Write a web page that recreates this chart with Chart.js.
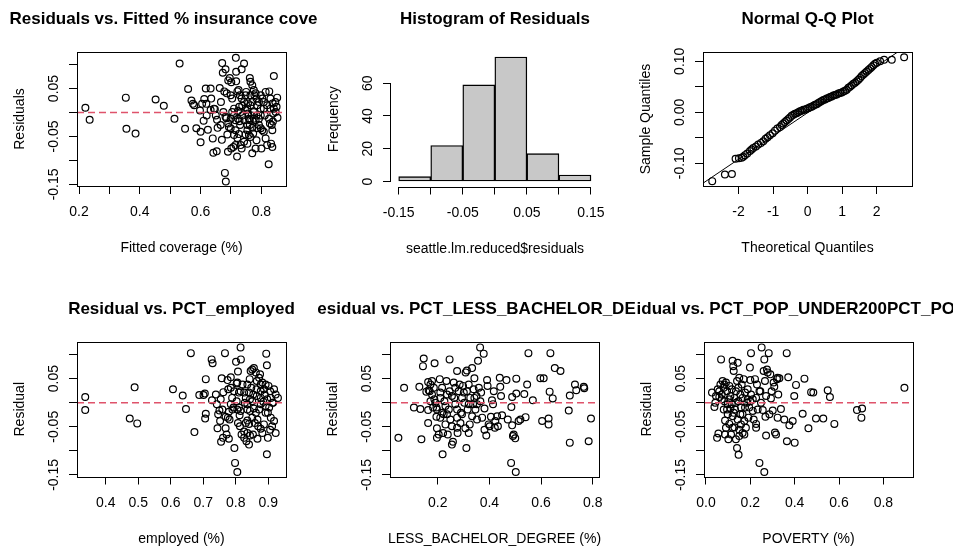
<!DOCTYPE html>
<html>
<head>
<meta charset="utf-8">
<script src="https://cdn.jsdelivr.net/npm/chart.js@4.4.1/dist/chart.umd.min.js"></script>
<style>
  body { margin: 0; background: #fff; }
  #page { position: relative; width: 953px; height: 549px; overflow: hidden; background: #fff; }
  canvas { position: absolute; }
</style>
</head>
<body>
<div id="page">
  <canvas id="fittedPlot" width="318" height="275" style="left:0;top:0"></canvas>
  <canvas id="histPlot" width="318" height="275" style="left:318px;top:0"></canvas>
  <canvas id="qqPlot" width="317" height="275" style="left:636px;top:0"></canvas>
  <canvas id="employedPlot" width="318" height="274" style="left:0;top:275px"></canvas>
  <canvas id="bachelorPlot" width="318" height="274" style="left:318px;top:275px"></canvas>
  <canvas id="povertyPlot" width="317" height="274" style="left:636px;top:275px"></canvas>
</div>
<script>
// residuals vs fitted
const fittedValues = [
  0.221,0.235,0.354,0.356,0.386,0.452,0.479,0.514,0.531,0.549,
  0.559,0.570,0.575,0.579,0.586,0.600,0.598,0.600,0.605,0.610,
  0.612,0.617,0.619,0.624,0.633,0.635,0.640,0.642,0.644,0.647,
  0.653,0.654,0.656,0.663,0.667,0.670,0.671,0.673,0.675,0.678,
  0.682,0.686,0.685,0.688,0.690,0.691,0.693,0.696,0.699,0.701,
  0.680,0.683,0.716,0.717,0.735,0.743,0.720,0.717,0.721,0.725,
  0.729,0.727,0.735,0.710,0.715,0.723,0.728,0.730,0.726,0.721,
  0.715,0.708,0.701,0.732,0.735,0.743,0.748,0.750,0.754,0.756,
  0.759,0.762,0.764,0.770,0.775,0.781,0.784,0.786,0.775,0.768,
  0.762,0.754,0.748,0.759,0.764,0.754,0.743,0.770,0.781,0.784,
  0.786,0.792,0.798,0.803,0.808,0.800,0.814,0.819,0.824,0.798,
  0.803,0.808,0.814,0.826,0.830,0.837,0.841,0.846,0.852,0.853,
  0.830,0.834,0.836,0.838,0.832,0.836,0.841,0.850,0.819,0.808,
  0.798,0.792,0.784,0.775,0.770,0.764,0.732,0.737,0.745,0.754,
  0.762,0.770,0.773,0.781,0.715,0.710,0.699,0.691,0.699,0.704,
  0.710,0.704,0.723,0.737,0.748,0.756,0.764,0.777,0.792,0.798,
  0.811,0.825,0.828,0.839,0.847,0.682,0.666,0.650,0.633,0.620
];
const fittedResiduals = [
  0.010,-0.015,0.031,-0.034,-0.044,0.027,0.014,-0.013,0.102,-0.034,
  0.049,0.025,0.018,0.015,-0.033,-0.062,0.004,-0.040,0.018,-0.017,
  0.028,0.050,0.018,-0.036,0.050,0.029,-0.054,-0.084,0.008,0.007,
  -0.081,-0.015,-0.032,0.051,0.022,-0.057,0.103,0.083,0.001,0.044,
  0.090,0.040,-0.012,-0.046,-0.082,0.067,-0.030,0.072,0.036,0.063,
  -0.126,-0.144,0.114,0.085,0.090,0.102,-0.092,0.065,0.044,0.047,
  0.036,0.012,0.029,-0.006,-0.016,-0.013,-0.018,-0.026,-0.045,-0.053,
  -0.068,-0.072,-0.075,-0.068,-0.075,0.022,0.036,0.043,0.008,-0.002,
  -0.013,0.072,0.064,0.057,0.047,0.040,0.029,0.015,0.001,-0.006,
  -0.016,-0.037,-0.046,-0.047,-0.051,-0.065,-0.061,-0.085,-0.075,-0.058,
  -0.033,-0.026,-0.033,-0.037,-0.040,-0.075,-0.054,-0.068,-0.108,0.036,
  0.029,0.022,0.043,0.044,0.029,0.019,0.076,0.022,0.031,-0.011,
  0.008,-0.026,-0.037,-0.019,-0.065,-0.072,0.008,0.012,0.015,0.008,
  -0.006,-0.013,-0.006,-0.013,0.022,0.015,0.001,-0.006,-0.016,-0.026,
  -0.026,-0.032,-0.044,-0.016,-0.037,-0.047,-0.033,-0.023,-0.013,0.001,
  0.008,0.029,0.003,0.014,0.005,0.019,0.036,0.036,0.022,0.008,
  -0.006,-0.013,-0.023,-0.002,0.001,-0.009,-0.026,-0.006,0.005,-0.006
];

// histogram
const histMids = [-0.125, -0.075, -0.025, 0.025, 0.075, 0.125];
const histCounts = [3, 22, 59, 76, 17, 4];

// normal q-q
const qqTheoretical = [
  -2.763,-2.396,-2.193,-2.087,-1.990,-1.913,-1.865,-1.816,-1.749,-1.671,
  -1.623,-1.575,-1.498,-1.430,-1.353,-1.285,-1.217,-1.159,-1.092,-1.014,
  -0.947,-0.879,-0.802,-0.754,-0.705,-0.657,-0.609,-0.560,-0.512,-0.464,
  -0.415,-0.367,-0.319,-0.271,-0.222,-0.174,-0.126,-0.077,-0.029,0.019,
  0.068,0.116,0.164,0.213,0.261,0.309,0.357,0.406,0.454,0.502,
  0.551,0.599,0.647,0.696,0.744,0.792,0.841,0.889,0.937,0.986,
  1.034,1.082,1.130,1.179,1.227,1.275,1.324,1.372,1.420,1.469,
  1.517,1.565,1.614,1.662,1.710,1.758,1.807,1.855,1.903,1.952,
  2.000,2.097,2.213,2.435,2.792
];
const qqSample = [
  -0.135,-0.122,-0.121,-0.091,-0.090,-0.089,-0.087,-0.084,-0.081,-0.076,
  -0.073,-0.070,-0.067,-0.063,-0.060,-0.057,-0.052,-0.049,-0.045,-0.041,
  -0.036,-0.032,-0.029,-0.025,-0.022,-0.019,-0.016,-0.013,-0.010,-0.007,
  -0.005,-0.003,-0.002,0.000,0.002,0.003,0.005,0.005,0.007,0.008,
  0.010,0.011,0.013,0.015,0.016,0.018,0.020,0.022,0.024,0.025,
  0.027,0.028,0.030,0.031,0.033,0.034,0.035,0.037,0.038,0.039,
  0.041,0.042,0.044,0.048,0.050,0.053,0.056,0.058,0.061,0.064,
  0.067,0.071,0.074,0.077,0.080,0.083,0.086,0.089,0.092,0.095,
  0.097,0.100,0.103,0.103,0.108
];
const qqLineX = [-3.03, 3.02];
const qqLineY = [-0.139, 0.137];

// residual vs PCT_employed
const employedPct = [
  0.337,0.337,0.489,0.474,0.497,0.607,0.637,0.647,0.662,0.673,
  0.688,0.701,0.705,0.708,0.708,0.706,0.726,0.729,0.727,0.739,
  0.744,0.750,0.752,0.755,0.757,0.761,0.762,0.767,0.769,0.772,
  0.775,0.779,0.781,0.785,0.789,0.796,0.798,0.805,0.801,0.807,
  0.805,0.815,0.816,0.810,0.803,0.810,0.815,0.807,0.813,0.818,
  0.826,0.833,0.841,0.844,0.853,0.867,0.831,0.836,0.841,0.836,
  0.831,0.826,0.836,0.843,0.846,0.851,0.856,0.862,0.865,0.872,
  0.877,0.875,0.882,0.887,0.892,0.894,0.896,0.889,0.897,0.906,
  0.918,0.923,0.930,0.908,0.913,0.903,0.899,0.908,0.918,0.912,
  0.906,0.923,0.899,0.896,0.877,0.872,0.867,0.862,0.856,0.851,
  0.844,0.854,0.865,0.877,0.885,0.892,0.887,0.882,0.877,0.836,
  0.826,0.812,0.805,0.793,0.785,0.776,0.769,0.759,0.746,0.754,
  0.742,0.777,0.785,0.795,0.803,0.790,0.779,0.821,0.815,0.828,
  0.836,0.844,0.851,0.859,0.869,0.841,0.848,0.864,0.877,0.892,
  0.901,0.915
];
const employedResiduals = [
  0.012,-0.015,0.032,-0.033,-0.043,0.028,0.015,-0.013,0.103,-0.061,
  0.016,0.016,0.019,0.049,-0.023,-0.033,0.090,0.082,0.005,0.017,
  -0.053,-0.016,-0.038,-0.081,0.051,-0.073,0.022,0.103,-0.053,-0.066,
  0.047,-0.075,-0.035,0.053,0.010,-0.094,-0.125,-0.144,0.085,0.065,
  0.042,0.115,0.090,0.021,0.003,-0.010,-0.017,-0.042,-0.049,-0.066,
  -0.073,-0.080,-0.087,-0.068,-0.066,-0.075,-0.042,-0.037,-0.044,-0.003,
  0.010,0.021,0.038,0.049,0.066,0.069,0.072,0.063,0.045,0.052,
  0.038,0.059,0.042,0.028,0.038,0.102,0.078,0.017,0.007,0.024,
  0.028,0.017,0.010,0.010,0.000,-0.010,-0.021,-0.031,-0.038,-0.049,
  -0.056,-0.063,-0.073,-0.107,-0.003,-0.014,-0.035,-0.021,-0.012,0.003,
  0.007,0.017,0.014,0.010,0.002,-0.021,-0.045,-0.063,-0.054,-0.063,
  -0.060,-0.026,-0.014,-0.010,-0.003,-0.031,-0.029,-0.014,-0.024,0.007,
  -0.003,0.028,0.031,0.024,0.040,-0.014,-0.019,0.038,0.024,0.000,
  -0.014,-0.017,-0.031,-0.042,-0.049,0.021,0.031,0.028,0.024,-0.007,
  0.035,0.000
];

// residual vs PCT_LESS_BACHELOR_DEGREE
const lessBachelorPct = [
  0.048,0.070,0.108,0.129,0.133,0.137,0.146,0.143,0.156,0.163,
  0.165,0.169,0.172,0.163,0.163,0.178,0.185,0.188,0.191,0.195,
  0.197,0.197,0.204,0.208,0.210,0.210,0.217,0.219,0.221,0.226,
  0.230,0.234,0.236,0.239,0.243,0.246,0.246,0.249,0.255,0.259,
  0.262,0.264,0.268,0.275,0.275,0.277,0.281,0.285,0.288,0.290,
  0.294,0.298,0.303,0.307,0.308,0.311,0.313,0.313,0.316,0.320,
  0.320,0.324,0.326,0.333,0.337,0.339,0.342,0.346,0.350,0.352,
  0.356,0.364,0.368,0.372,0.378,0.381,0.381,0.388,0.391,0.393,
  0.397,0.401,0.406,0.410,0.414,0.417,0.421,0.423,0.430,0.433,
  0.440,0.442,0.445,0.449,0.466,0.471,0.484,0.488,0.485,0.488,
  0.491,0.494,0.500,0.502,0.504,0.504,0.513,0.520,0.535,0.540,
  0.546,0.551,0.568,0.597,0.610,0.604,0.629,0.629,0.633,0.636,
  0.645,0.653,0.675,0.707,0.711,0.711,0.731,0.736,0.765,0.767,
  0.784,0.793,0.172,0.178,0.187,0.197,0.210,0.217,0.223,0.236,
  0.255,0.268,0.275,0.294,0.301,0.320,0.333,0.342,0.352,0.359,
  0.365,0.255,0.275,0.230,0.195,0.182
];
const lessBachelorResiduals = [
  -0.073,0.031,-0.010,0.033,-0.013,-0.076,0.092,0.076,0.023,0.043,
  0.026,0.024,0.003,-0.015,-0.042,0.045,0.031,0.082,0.000,-0.010,
  -0.053,-0.073,-0.066,0.049,0.021,-0.031,-0.021,-0.107,-0.063,0.003,
  -0.007,0.045,-0.024,-0.066,-0.014,0.090,0.024,-0.035,-0.087,-0.081,
  0.042,0.010,-0.003,0.066,-0.014,-0.063,0.024,0.038,-0.042,-0.021,
  0.010,0.035,0.000,-0.053,0.063,-0.094,0.067,0.024,-0.014,-0.063,
  0.038,-0.045,0.010,0.072,-0.003,0.028,0.051,-0.014,0.014,-0.035,
  0.087,0.115,0.021,-0.031,0.102,-0.012,-0.056,-0.068,0.047,0.035,
  -0.045,-0.049,-0.029,0.005,-0.003,0.024,-0.052,-0.038,-0.028,-0.049,
  0.052,0.033,0.014,-0.026,0.047,-0.035,-0.125,0.012,-0.009,-0.047,
  -0.069,-0.066,-0.074,-0.144,0.050,0.019,-0.038,-0.035,0.018,-0.030,
  0.038,0.103,0.005,0.051,0.051,-0.038,-0.033,-0.045,0.023,0.103,
  0.009,0.072,0.066,-0.016,0.015,-0.083,0.038,0.026,0.033,0.030,
  -0.080,-0.033,0.038,0.017,0.007,-0.014,0.010,0.031,-0.024,0.017,
  0.014,0.031,-0.031,-0.024,0.021,-0.003,-0.028,0.010,-0.003,0.031,
  0.003,-0.049,-0.052,-0.045,-0.029,-0.010
];

// residual vs PCT_POP_UNDER200PCT_POVERTY
const povertyPct = [
  0.027,0.038,0.042,0.050,0.053,0.056,0.060,0.065,0.068,0.071,
  0.075,0.080,0.080,0.083,0.086,0.086,0.090,0.090,0.095,0.098,
  0.098,0.101,0.105,0.105,0.110,0.110,0.113,0.116,0.120,0.120,
  0.123,0.125,0.128,0.128,0.131,0.135,0.135,0.140,0.140,0.143,
  0.143,0.146,0.147,0.150,0.150,0.155,0.158,0.158,0.161,0.165,
  0.165,0.170,0.173,0.176,0.180,0.185,0.188,0.191,0.195,0.198,
  0.200,0.203,0.203,0.211,0.215,0.221,0.226,0.226,0.230,0.233,
  0.241,0.245,0.248,0.251,0.256,0.260,0.263,0.263,0.266,0.268,
  0.271,0.271,0.275,0.278,0.283,0.286,0.290,0.293,0.296,0.301,
  0.305,0.308,0.311,0.316,0.320,0.323,0.326,0.331,0.338,0.323,
  0.353,0.364,0.365,0.371,0.376,0.391,0.398,0.400,0.406,0.436,
  0.444,0.462,0.474,0.484,0.496,0.529,0.549,0.559,0.579,0.681,
  0.701,0.704,0.895,0.045,0.060,0.071,0.083,0.095,0.105,0.116,
  0.125,0.135,0.146,0.155,0.165,0.176,0.188,0.200,0.211,0.226,
  0.241,0.120,0.150,0.173
];
const povertyResiduals = [
  0.021,-0.009,0.000,-0.073,0.028,-0.064,0.012,0.038,0.090,0.017,
  0.045,0.031,-0.014,0.003,-0.037,-0.066,0.042,-0.052,0.024,-0.003,
  -0.024,-0.076,0.035,-0.044,0.014,-0.012,-0.066,0.028,0.087,-0.028,
  0.076,0.066,0.010,-0.051,-0.014,-0.076,0.024,0.045,-0.094,0.083,
  -0.035,0.003,-0.108,0.052,-0.069,0.017,-0.010,-0.045,0.038,-0.063,
  -0.024,0.049,-0.038,0.021,-0.052,0.000,0.028,-0.031,-0.010,0.073,
  0.047,0.103,0.017,0.007,-0.035,0.049,-0.044,-0.052,0.038,-0.014,
  -0.125,0.024,0.000,0.115,-0.015,0.066,0.090,-0.144,0.045,-0.029,
  0.014,-0.068,0.069,0.063,0.103,-0.024,0.059,0.009,0.024,-0.016,
  0.042,0.033,-0.062,-0.066,0.049,0.052,0.017,0.051,-0.013,-0.031,
  -0.035,0.103,-0.080,0.053,-0.047,-0.038,0.014,-0.083,0.037,-0.023,
  0.050,-0.053,0.022,0.021,-0.033,-0.033,0.026,0.012,-0.044,-0.015,
  -0.031,-0.012,0.031,0.014,0.024,0.007,0.038,-0.014,0.007,-0.003,
  -0.021,0.000,0.031,-0.024,0.010,-0.010,0.007,0.003,-0.017,0.010,
  0.024,-0.052,-0.056,-0.066
];

// tick values and labels
const residualTicks = [-0.15, -0.10, -0.05, 0, 0.05, 0.10];
const residualTickLabels = ['-0.15', '', '-0.05', '', '0.05', ''];
const fittedTicks = [0.2, 0.3, 0.4, 0.5, 0.6, 0.7, 0.8];
const fittedTickLabels = ['0.2', '', '0.4', '', '0.6', '', '0.8'];
const histXTicks = [-0.15, -0.10, -0.05, 0, 0.05, 0.10, 0.15];
const histXTickLabels = ['-0.15', '', '-0.05', '', '0.05', '', '0.15'];
const histYTicks = [0, 20, 40, 60];
const histYTickLabels = ['0', '20', '40', '60'];
const qqXTicks = [-2, -1, 0, 1, 2];
const qqXTickLabels = ['-2', '-1', '0', '1', '2'];
const qqYTicks = [-0.10, -0.05, 0, 0.05, 0.10];
const qqYTickLabels = ['-0.10', '', '0.00', '', '0.10'];
const employedTicks = [0.4, 0.5, 0.6, 0.7, 0.8, 0.9];
const employedTickLabels = ['0.4', '0.5', '0.6', '0.7', '0.8', '0.9'];
const bachelorTicks = [0.2, 0.4, 0.6, 0.8];
const bachelorTickLabels = ['0.2', '0.4', '0.6', '0.8'];
const povertyTicks = [0, 0.2, 0.4, 0.6, 0.8];
const povertyTickLabels = ['0.0', '0.2', '0.4', '0.6', '0.8'];

const FONT = '"Liberation Sans", Arial, Helvetica, sans-serif';
const ZERO_RED = '#DF536B';

// R-like frame, rotated y labels and titles
const rStyle = {
  id: 'rStyle',
  afterDraw(chart, args, o) {
    const ctx = chart.ctx;
    const a = chart.chartArea;
    const sx = chart.scales.x, sy = chart.scales.y;
    ctx.save();
    ctx.strokeStyle = '#000';
    ctx.lineWidth = 1;
    if (o.box) {
      ctx.strokeRect(Math.round(a.left) + 0.5, Math.round(a.top) + 0.5,
        Math.round(a.right - a.left), Math.round(a.bottom - a.top));
    }
    if (o.axisX) {
      const y = Math.round(a.bottom) + 0.5;
      ctx.beginPath();
      ctx.moveTo(sx.getPixelForValue(o.axisX[0]), y);
      ctx.lineTo(sx.getPixelForValue(o.axisX[1]), y);
      ctx.stroke();
    }
    if (o.axisY) {
      const x = Math.round(a.left) - 0.5;
      ctx.beginPath();
      ctx.moveTo(x, sy.getPixelForValue(o.axisY[0]));
      ctx.lineTo(x, sy.getPixelForValue(o.axisY[1]));
      ctx.stroke();
    }
    ctx.fillStyle = '#000';
    ctx.textAlign = 'center';
    ctx.textBaseline = 'alphabetic';
    ctx.font = '14px ' + FONT;
    o.yTicks.forEach((v, i) => {
      if (!o.yLabels[i]) return;
      ctx.save();
      ctx.translate(a.left - 19.5, sy.getPixelForValue(v));
      ctx.rotate(-Math.PI / 2);
      ctx.fillText(o.yLabels[i], 0, 0);
      ctx.restore();
    });
    ctx.fillText(o.xTitle, (a.left + a.right) / 2, a.bottom + 66);
    ctx.save();
    ctx.translate(a.left - 53.5, (a.top + a.bottom) / 2);
    ctx.rotate(-Math.PI / 2);
    ctx.fillText(o.yTitle, 0, 0);
    ctx.restore();
    ctx.font = 'bold 17px ' + FONT;
    ctx.fillText(o.title, (a.left + a.right) / 2, a.top - 27.6);
    ctx.restore();
  }
};

function makePanel(id, p) {
  const el = document.getElementById(id);
  const tickGrid = { drawOnChartArea: false, drawTicks: true, tickLength: 8, color: '#000', lineWidth: 1, offset: false };
  return new Chart(el, {
    type: p.type,
    data: { datasets: p.datasets },
    options: {
      responsive: false,
      animation: false,
      events: [],
      layout: { padding: { left: 0, top: p.area.top, right: el.width - p.area.right, bottom: 0 } },
      plugins: {
        legend: { display: false },
        tooltip: { enabled: false },
        rStyle: {
          box: p.box, axisX: p.axisX, axisY: p.axisY,
          yTicks: p.yTicks, yLabels: p.yLabels,
          title: p.title, xTitle: p.xTitle, yTitle: p.yTitle
        }
      },
      scales: {
        x: {
          type: 'linear',
          min: p.xMin, max: p.xMax,
          offset: false,
          afterBuildTicks: s => { s.ticks = p.xTicks.map(v => ({ value: v })); },
          afterFit: s => { s.height = el.height - p.area.bottom; },
          grid: tickGrid,
          border: { display: false },
          ticks: {
            autoSkip: false, maxRotation: 0, minRotation: 0, padding: 10,
            color: '#000', font: { family: FONT, size: 14 },
            callback: (v, i) => p.xLabels[i]
          }
        },
        y: {
          type: 'linear',
          min: p.yMin, max: p.yMax,
          afterBuildTicks: s => { s.ticks = p.yTicks.map(v => ({ value: v })); },
          afterFit: s => { s.width = p.area.left; },
          grid: tickGrid,
          border: { display: false },
          ticks: { display: false }
        }
      }
    },
    plugins: [rStyle]
  });
}

function circles(xs, ys) {
  return {
    data: xs.map((x, i) => ({ x: x, y: ys[i] })),
    pointStyle: 'circle',
    pointRadius: 3.4,
    pointBorderWidth: 1.2,
    pointBorderColor: '#000',
    pointBackgroundColor: 'rgba(0,0,0,0)',
    showLine: false
  };
}

function zeroLine(xMin, xMax) {
  return {
    data: [{ x: xMin, y: 0 }, { x: xMax, y: 0 }],
    showLine: true,
    borderColor: ZERO_RED,
    borderWidth: 1.4,
    borderDash: [7, 4],
    pointRadius: 0
  };
}

const resMin = -0.1533, resMax = 0.1262;

makePanel('fittedPlot', {
  type: 'scatter',
  area: { left: 77, right: 286, top: 52, bottom: 186 },
  xMin: 0.1934, xMax: 0.881, yMin: resMin, yMax: resMax,
  xTicks: fittedTicks, xLabels: fittedTickLabels,
  yTicks: residualTicks, yLabels: residualTickLabels,
  box: true,
  title: 'Residuals vs. Fitted % insurance coverage',
  xTitle: 'Fitted coverage (%)', yTitle: 'Residuals',
  datasets: [zeroLine(0.1934, 0.881), circles(fittedValues, fittedResiduals)]
});

makePanel('histPlot', {
  type: 'bar',
  area: { left: 73, right: 281, top: 52, bottom: 186.5 },
  xMin: -0.162, xMax: 0.1625, yMin: -3.04, yMax: 79.04,
  xTicks: histXTicks, xLabels: histXTickLabels,
  yTicks: histYTicks, yLabels: histYTickLabels,
  box: false, axisX: [-0.15, 0.15], axisY: [0, 60],
  title: 'Histogram of Residuals',
  xTitle: 'seattle.lm.reduced$residuals', yTitle: 'Frequency',
  datasets: [{
    data: histMids.map((m, i) => ({ x: m, y: histCounts[i] })),
    backgroundColor: '#C8C8C8',
    borderColor: '#000',
    borderWidth: 1.4,
    borderSkipped: false,
    barPercentage: 1,
    categoryPercentage: 1
  }]
});

makePanel('qqPlot', {
  type: 'scatter',
  area: { left: 67, right: 276, top: 52, bottom: 186 },
  xMin: -3.03, xMax: 3.02, yMin: -0.1445, yMax: 0.1182,
  xTicks: qqXTicks, xLabels: qqXTickLabels,
  yTicks: qqYTicks, yLabels: qqYTickLabels,
  box: true,
  title: 'Normal Q-Q Plot',
  xTitle: 'Theoretical Quantiles', yTitle: 'Sample Quantiles',
  datasets: [{
    data: qqLineX.map((x, i) => ({ x: x, y: qqLineY[i] })),
    showLine: true, borderColor: '#000', borderWidth: 1, pointRadius: 0
  }, circles(qqTheoretical, qqSample)]
});

makePanel('employedPlot', {
  type: 'scatter',
  area: { left: 77, right: 286, top: 67, bottom: 201.5 },
  xMin: 0.3117, xMax: 0.9548, yMin: resMin, yMax: resMax,
  xTicks: employedTicks, xLabels: employedTickLabels,
  yTicks: residualTicks, yLabels: residualTickLabels,
  box: true,
  title: 'Residual vs. PCT_employed',
  xTitle: 'employed (%)', yTitle: 'Residual',
  datasets: [zeroLine(0.3117, 0.9548), circles(employedPct, employedResiduals)]
});

makePanel('bachelorPlot', {
  type: 'scatter',
  area: { left: 72, right: 281, top: 67, bottom: 201.5 },
  xMin: 0.0155, xMax: 0.824, yMin: resMin, yMax: resMax,
  xTicks: bachelorTicks, xLabels: bachelorTickLabels,
  yTicks: residualTicks, yLabels: residualTickLabels,
  box: true,
  title: 'Residual vs. PCT_LESS_BACHELOR_DEGREE',
  xTitle: 'LESS_BACHELOR_DEGREE (%)', yTitle: 'Residual',
  datasets: [zeroLine(0.0155, 0.824), circles(lessBachelorPct, lessBachelorResiduals)]
});

makePanel('povertyPlot', {
  type: 'scatter',
  area: { left: 68, right: 277, top: 67, bottom: 201.5 },
  xMin: -0.009, xMax: 0.9337, yMin: resMin, yMax: resMax,
  xTicks: povertyTicks, xLabels: povertyTickLabels,
  yTicks: residualTicks, yLabels: residualTickLabels,
  box: true,
  title: 'Residual vs. PCT_POP_UNDER200PCT_POVERTY',
  xTitle: 'POVERTY (%)', yTitle: 'Residual',
  datasets: [zeroLine(-0.009, 0.9337), circles(povertyPct, povertyResiduals)]
});
</script>
</body>
</html>
